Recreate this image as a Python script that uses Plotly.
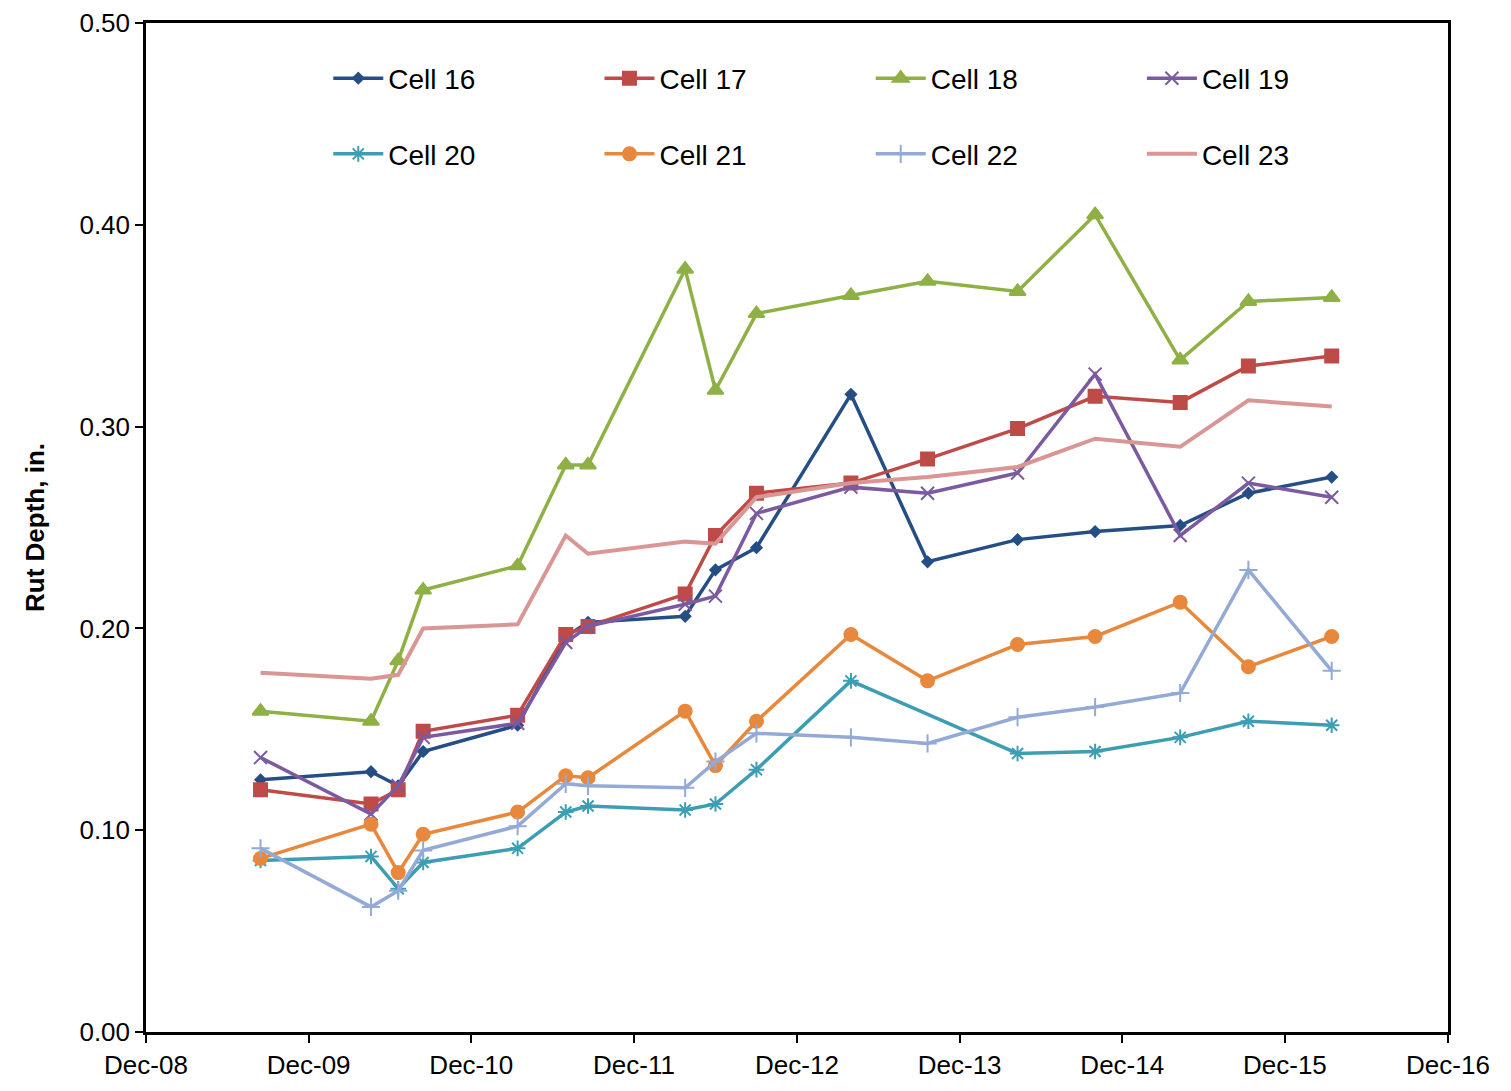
import plotly.graph_objects as go

dates = ["2009-08-15","2010-04-20","2010-06-20","2010-08-15","2011-03-15","2011-07-01","2011-08-20",
         "2012-03-25","2012-06-01","2012-09-01","2013-04-01","2013-09-20","2014-04-10","2014-10-01",
         "2015-04-10","2015-09-10","2016-03-15"]
cell16 = [0.125,0.129,0.122,0.139,0.152,0.196,0.203,0.206,0.229,0.240,0.316,0.233,0.244,0.248,0.251,0.267,0.275]
cell17 = [0.120,0.113,0.120,0.149,0.157,0.197,0.201,0.217,0.246,0.267,0.272,0.284,0.299,0.315,0.312,0.330,0.335]
cell18 = [0.159,0.154,0.184,0.219,0.231,0.281,0.281,0.378,0.318,0.356,0.365,0.372,0.367,0.405,0.333,0.362,0.364]
cell19 = [0.136,0.108,0.122,0.146,0.153,0.193,0.201,0.212,0.216,0.257,0.270,0.267,0.277,0.326,0.246,0.272,0.265]
cell20 = [0.085,0.087,0.071,0.084,0.091,0.109,0.112,0.110,0.113,0.130,0.174,None,0.138,0.139,0.146,0.154,0.152]
cell21 = [0.086,0.103,0.079,0.098,0.109,0.127,0.126,0.159,0.132,0.154,0.197,0.174,0.192,0.196,0.213,0.181,0.196]
cell22 = [0.091,0.062,0.070,0.090,0.102,0.123,0.122,0.121,0.134,0.148,0.146,0.143,0.156,0.161,0.168,0.229,0.179]
cell23 = [0.178,0.175,0.177,0.200,0.202,0.246,0.237,0.243,0.242,0.265,0.272,0.275,0.280,0.294,0.290,0.313,0.310]

tick_vals = ["2008-12-01","2009-12-01","2010-12-01","2011-12-01","2012-12-01","2013-12-01","2014-12-01","2015-12-01","2016-12-01"]
tick_text = ["Dec-08","Dec-09","Dec-10","Dec-11","Dec-12","Dec-13","Dec-14","Dec-15","Dec-16"]

series = [
    ("Cell 16", cell16, "#254E84", "diamond", 8),
    ("Cell 17", cell17, "#BE4B48", "square", 13),
    ("Cell 18", cell18, "#8EB044", "triangle-up", 14),
    ("Cell 19", cell19, "#7B5AA0", "x-thin", 13),
    ("Cell 20", cell20, "#3C9DB3", "asterisk", 13),
    ("Cell 21", cell21, "#E8883C", "circle", 13),
    ("Cell 22", cell22, "#94AAD6", "cross-thin", 13),
    ("Cell 23", cell23, "#D99694", None, 0),
]

fig = go.Figure()
legends = {}
for i, (name, vals, col, sym, size) in enumerate(series):
    key = "legend" if i == 0 else f"legend{i+1}"
    col_i, row_i = i % 4, i // 4
    legends[key] = dict(x=0.14 + col_i * 0.2083, y=[0.945, 0.87][row_i], xanchor="left", yanchor="middle",
                        font=dict(size=28), bgcolor="rgba(0,0,0,0)", itemwidth=50)
    if sym is None:
        fig.add_trace(go.Scatter(x=dates, y=vals, name=name, mode="lines", legend=key,
                                 line=dict(color=col, width=4), connectgaps=True))
    else:
        fig.add_trace(go.Scatter(x=dates, y=vals, name=name, mode="lines+markers", legend=key,
                                 line=dict(color=col, width=3.5), connectgaps=True,
                                 marker=dict(symbol=sym, size=size, color=col,
                                             line=dict(color=col, width=2))))

fig.update_layout(
    width=1511, height=1091,
    margin=dict(l=138, r=71, t=15, b=67),
    plot_bgcolor="white", paper_bgcolor="white",
    font=dict(family="Arial, Liberation Sans", size=26, color="black"),
    showlegend=True,
    xaxis=dict(type="date", range=["2008-12-01","2016-12-01"], tickvals=tick_vals, ticktext=tick_text,
               showgrid=False, showline=True, linecolor="black", linewidth=2.5, mirror=True, automargin=False,
               ticks="outside", ticklen=8, tickwidth=2, tickcolor="black", tickfont=dict(size=26)),
    yaxis=dict(range=[0,0.5], dtick=0.1, tickformat=".2f", showgrid=False, automargin=False,
               showline=True, linecolor="black", linewidth=2.5, mirror=True,
               ticks="outside", ticklen=8, tickwidth=2, tickcolor="black", tickfont=dict(size=26),
               title=dict(text="<b>Rut Depth, in.</b>", font=dict(size=26), standoff=28)),
    **legends,
)
fig.write_html("out.html")
